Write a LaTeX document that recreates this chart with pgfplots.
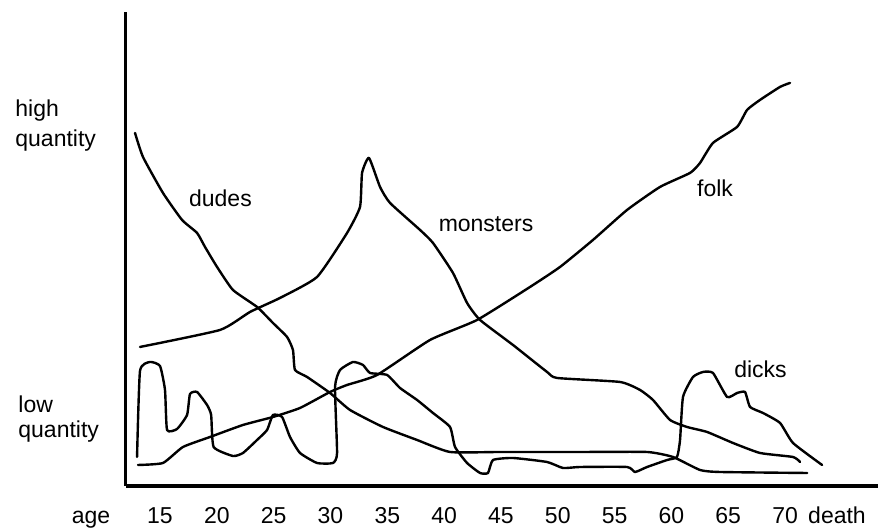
\documentclass[border=0pt]{standalone}
\usepackage{fontspec}
\setmainfont{Liberation Sans}
\usepackage{pgfplots}
\pgfplotsset{compat=1.18}

% ages on x, hand-drawn "quantity" on y (no units)
\pgfplotstableread{
x y
12.80 354
13.50 330
15.26 294
16.94 267
18.26 254
18.96 240
20.02 220
21.42 197
23.54 180
24.94 164
26.18 150
26.70 137
26.88 117
27.94 110
29.96 94
31.72 77
34.62 60
37.62 47
40.52 35
44.92 35
51.96 35
57.86 35
60.14 30
62.52 17
64.28 15
71.94 14
}\dudes

\pgfplotstableread{
x y
13.24 140
20.28 157
22.92 175
25.56 189
28.82 210
31.46 254
32.60 280
32.78 314
33.39 329
34.36 300
35.24 284
37.88 257
39.02 244
40.78 214
42.02 184
43.16 167
46.06 142
49.06 115
49.94 109
55.48 105
57.24 97
58.38 87
59.88 67
61.38 60
63.14 55
65.42 44
67.80 34
70.70 30
71.32 25
}\monsters

\pgfplotstableread{
x y
13.06 22
15.26 24
17.02 40
19.40 50
22.30 62
24.94 70
27.32 79
29.96 95
31.46 102
34.10 112
38.76 147
42.90 167
47.56 200
50.20 220
53.10 247
56.10 277
59.00 300
61.64 314
62.52 324
63.66 344
65.78 360
66.66 377
67.80 387
69.56 400
70.44 404
}\folk

\pgfplotstableread{
x y
12.98 30
13.24 116
14.12 125
15.00 121
15.44 97
15.62 57
16.50 58
17.38 72
17.64 93
18.26 95
19.14 82
19.50 72
19.72 40
21.42 31
22.30 34
23.54 47
24.42 57
24.94 72
25.74 70
26.44 50
27.32 34
28.82 24
30.22 24
30.58 34
30.40 100
30.84 117
31.98 125
32.86 122
33.48 114
34.98 112
36.12 99
37.62 87
39.02 74
40.52 60
40.96 40
42.02 24
43.16 14
43.86 14
44.30 27
46.06 29
49.06 25
50.46 19
51.96 20
56.10 20
56.80 15
57.86 20
59.62 27
60.49 30
60.76 47
61.02 90
61.90 110
62.78 115
63.66 114
64.90 90
65.78 94
66.48 95
66.92 80
68.06 74
69.56 64
70.70 44
73.26 22
}\dicks

\begin{document}
\begin{tikzpicture}[x=1pt,y=1pt,font=\fontsize{11.5}{14}\selectfont]
\useasboundingbox (-62.75,-21) rectangle (376.25,243);
\begin{axis}[
  at={(0,0)}, anchor=south west,
  scale only axis, width=376.25pt, height=237pt,
  xmin=11.964, xmax=78.18, ymin=1, ymax=475,
  axis lines=left,
  axis line style={-, line width=1.6pt},
  clip=false,
  xtick={15,20,25,30,35,40,45,50,55,60,65,70,74.57},
  xticklabels={15,20,25,30,35,40,45,50,55,60,65,70,death},
  ytick=\empty,
  major tick length=0pt,
  xticklabel style={anchor=base, yshift=-19pt, inner sep=0pt,
    font=\fontsize{11.5}{14}\selectfont},
  curve/.style={black, line width=1.2pt, line join=round, line cap=round,
    smooth, tension=0.3, mark=none},
]
\addplot[curve] table {\dudes};
\addplot[curve] table {\monsters};
\addplot[curve] table {\folk};
\addplot[curve] table {\dicks};

\node[anchor=base] at (axis cs:20.32,280) {dudes};
\node[anchor=base] at (axis cs:43.69,255) {monsters};
\node[anchor=base] at (axis cs:63.84,290) {folk};
\node[anchor=base] at (axis cs:67.84,109) {dicks};
\end{axis}

\node[anchor=base, inner sep=0pt] at (-17.25,-19) {age};
\node[anchor=base west, inner sep=0pt] at (-55.25,184.5) {high};
\node[anchor=base west, inner sep=0pt] at (-55.25,169.5) {quantity};
\node[anchor=base west, inner sep=0pt] at (-53.75,36.5) {low};
\node[anchor=base west, inner sep=0pt] at (-53.75,24) {quantity};
\end{tikzpicture}
\end{document}
